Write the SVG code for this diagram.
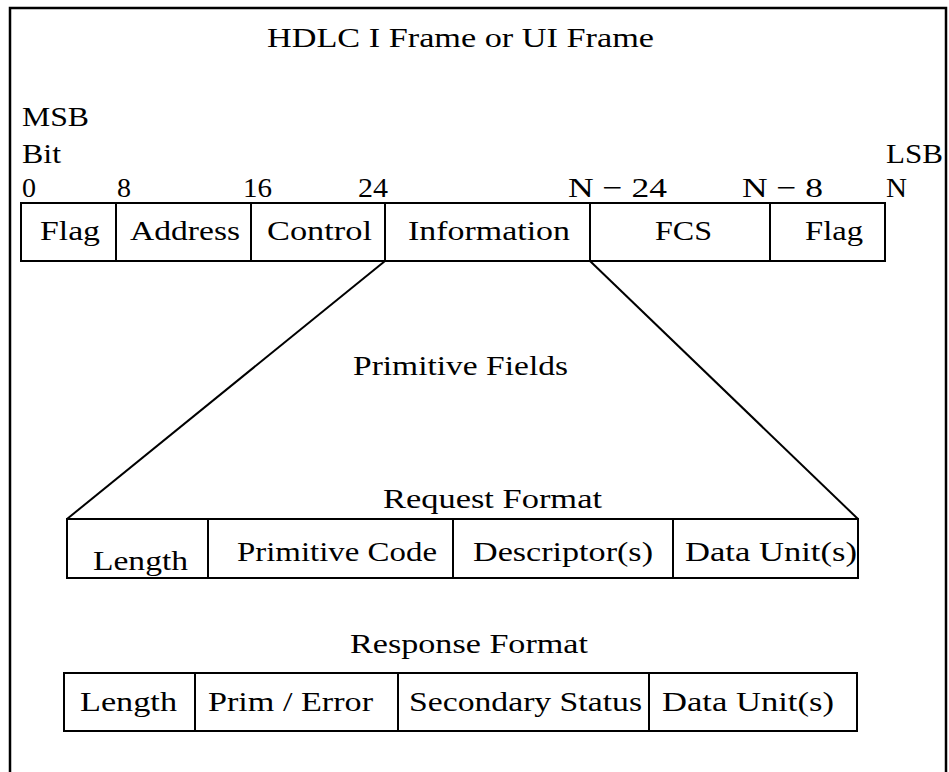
<svg xmlns="http://www.w3.org/2000/svg" width="949" height="772" viewBox="0 0 949 772">
<style>
text{font-family:"Liberation Serif","Times New Roman",Times,serif;font-size:28px;fill:#000}
.box{fill:#fff;stroke:#000;stroke-width:2}
.ln{stroke:#000;stroke-width:2;fill:none}
</style>
<rect x="0" y="0" width="949" height="772" fill="#fff"/>
<rect id="border" x="10" y="8" width="936" height="800" fill="none" stroke="#000" stroke-width="2.5"/>
<g id="title"><text x="267" y="47" textLength="387" lengthAdjust="spacingAndGlyphs">HDLC I Frame or UI Frame</text></g>
<g id="bit-labels">
<text x="22" y="126" textLength="67" lengthAdjust="spacingAndGlyphs">MSB</text>
<text x="22" y="163" textLength="39" lengthAdjust="spacingAndGlyphs">Bit</text>
<text x="22" y="197">0</text>
<text x="117" y="197">8</text>
<text x="243" y="197" textLength="29" lengthAdjust="spacingAndGlyphs">16</text>
<text x="358" y="197" textLength="30" lengthAdjust="spacingAndGlyphs">24</text>
<text x="568" y="197" textLength="99" lengthAdjust="spacingAndGlyphs">N − 24</text>
<text x="742" y="197" textLength="81" lengthAdjust="spacingAndGlyphs">N − 8</text>
<text x="886" y="197" textLength="21" lengthAdjust="spacingAndGlyphs">N</text>
<text x="886" y="163" textLength="57" lengthAdjust="spacingAndGlyphs">LSB</text>
</g>
<g id="connectors">
<line class="ln" x1="385" y1="261" x2="67" y2="519"/>
<line class="ln" x1="590" y1="261" x2="858" y2="519"/>
</g>
<g id="hdlc-frame">
<rect class="box" x="21" y="203" width="864" height="58"/>
<line class="ln" x1="116" y1="203" x2="116" y2="261"/>
<line class="ln" x1="251" y1="203" x2="251" y2="261"/>
<line class="ln" x1="385" y1="203" x2="385" y2="261"/>
<line class="ln" x1="590" y1="203" x2="590" y2="261"/>
<line class="ln" x1="770" y1="203" x2="770" y2="261"/>
<text x="40" y="240" textLength="60" lengthAdjust="spacingAndGlyphs">Flag</text>
<text x="130" y="240" textLength="110" lengthAdjust="spacingAndGlyphs">Address</text>
<text x="267" y="240" textLength="105" lengthAdjust="spacingAndGlyphs">Control</text>
<text x="408" y="240" textLength="162" lengthAdjust="spacingAndGlyphs">Information</text>
<text x="655" y="240" textLength="57" lengthAdjust="spacingAndGlyphs">FCS</text>
<text x="805" y="240" textLength="58" lengthAdjust="spacingAndGlyphs">Flag</text>
</g>
<g id="primitive-fields"><text x="353" y="375" textLength="215" lengthAdjust="spacingAndGlyphs">Primitive Fields</text></g>
<g id="request-format">
<text x="383" y="508" textLength="219" lengthAdjust="spacingAndGlyphs">Request Format</text>
<rect class="box" x="67" y="519" width="791" height="59"/>
<line class="ln" x1="208" y1="519" x2="208" y2="578"/>
<line class="ln" x1="453" y1="519" x2="453" y2="578"/>
<line class="ln" x1="673" y1="519" x2="673" y2="578"/>
<text x="93" y="570" textLength="95" lengthAdjust="spacingAndGlyphs">Length</text>
<text x="237" y="561" textLength="200" lengthAdjust="spacingAndGlyphs">Primitive Code</text>
<text x="473" y="561" textLength="180" lengthAdjust="spacingAndGlyphs">Descriptor(s)</text>
<text x="685" y="561" textLength="172" lengthAdjust="spacingAndGlyphs">Data Unit(s)</text>
</g>
<g id="response-format">
<text x="350" y="653" textLength="238" lengthAdjust="spacingAndGlyphs">Response Format</text>
<rect class="box" x="64" y="673" width="793" height="58"/>
<line class="ln" x1="195" y1="673" x2="195" y2="731"/>
<line class="ln" x1="398" y1="673" x2="398" y2="731"/>
<line class="ln" x1="649" y1="673" x2="649" y2="731"/>
<text x="80" y="711" textLength="97" lengthAdjust="spacingAndGlyphs">Length</text>
<text x="208" y="711" textLength="165" lengthAdjust="spacingAndGlyphs">Prim / Error</text>
<text x="409" y="711" textLength="233" lengthAdjust="spacingAndGlyphs">Secondary Status</text>
<text x="662" y="711" textLength="172" lengthAdjust="spacingAndGlyphs">Data Unit(s)</text>
</g>
</svg>
